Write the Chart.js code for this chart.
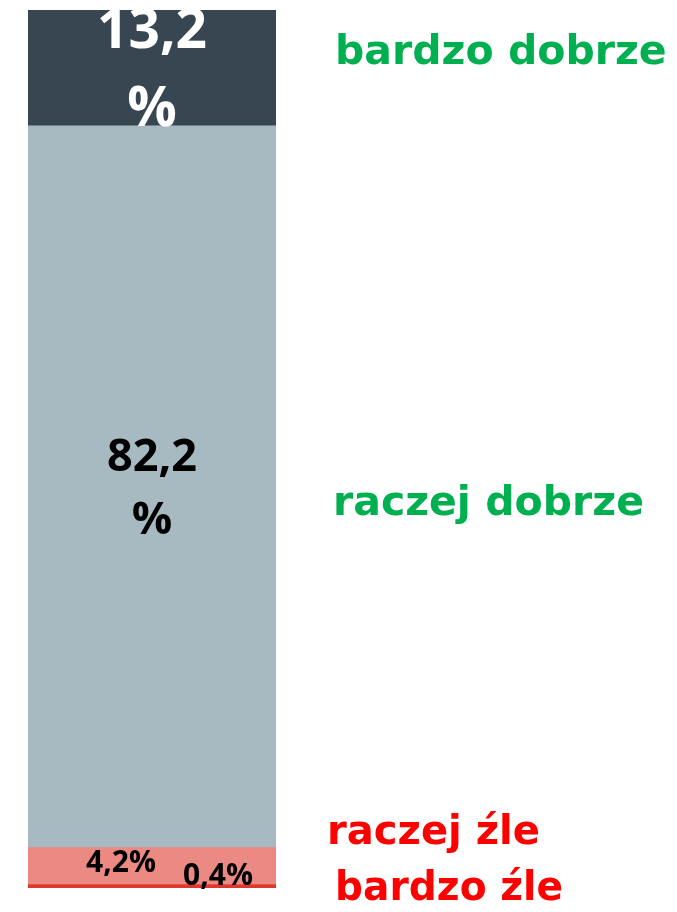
<!DOCTYPE html>
<html>
<head>
<meta charset="utf-8">
<style>
  html, body { margin: 0; padding: 0; background: #fff; }
  #wrap { width: 677px; height: 912px; position: relative; }
</style>
<script src="https://cdn.jsdelivr.net/npm/chart.js@4/dist/chart.umd.min.js"></script>
</head>
<body>
<div id="wrap"><canvas id="chart" width="677" height="912"></canvas></div>
<script>
  // ---- data ----
  const categories = ['ocena'];
  const seriesNames = ['bardzo źle', 'raczej źle', 'raczej dobrze', 'bardzo dobrze'];
  const seriesValues = [0.4, 4.2, 82.2, 13.2];
  const seriesColors = ['#E0382E', '#EB8A82', '#A8BAC1', '#384651'];
  const labelColors = ['#FF0000', '#FF0000', '#00B050', '#00B050'];

  const FONT = "'Open Sans','Noto Sans',sans-serif";
  const SIDE_FONT = "'DejaVu Sans',sans-serif";

  const fmt = (v) => v.toFixed(1).replace('.', ',');

  // value labels inside the bar + category names on the right
  const labelPlugin = {
    id: 'labels',
    afterDraw(chart) {
      const ctx = chart.ctx;
      const area = chart.chartArea;
      ctx.save();
      ctx.textAlign = 'center';
      ctx.textBaseline = 'middle';
      chart.data.datasets.forEach((ds, i) => {
        const bar = chart.getDatasetMeta(i).data[0];
        const cx = bar.x;
        const cy = (bar.y + bar.base) / 2;
        const txt = fmt(ds.data[0]);
        if (i === 3) {
          ctx.fillStyle = '#fff';
          ctx.font = 'bold 55px ' + FONT;
          ctx.fillText(txt, cx, cy - 36);
          ctx.fillText('%', cx, cy + 42);
        } else if (i === 2) {
          ctx.fillStyle = '#000';
          ctx.font = 'bold 45px ' + FONT;
          ctx.fillText(txt, cx, cy - 29);
          ctx.fillText('%', cx, cy + 34);
        } else if (i === 1) {
          ctx.fillStyle = '#000';
          ctx.font = 'bold 30px ' + FONT;
          ctx.fillText(txt + '%', cx - 31, cy - 3);
        } else {
          ctx.fillStyle = '#000';
          ctx.font = 'bold 30px ' + FONT;
          ctx.fillText(txt + '%', cx + 66, cy - 10);
        }
      });

      // category names to the right of the bar
      const sideX = area.right + 59;
      const sideY = [900, 844, 515, 64];
      const sideDx = [0, -8, -2, 0];
      const sideW = [228, 213, 312, 333];
      ctx.textAlign = 'left';
      ctx.textBaseline = 'alphabetic';
      ctx.font = 'bold 41px ' + SIDE_FONT;
      seriesNames.forEach((name, i) => {
        ctx.fillStyle = labelColors[i];
        ctx.fillText(name, sideX + sideDx[i], sideY[i], sideW[i]);
      });
      ctx.restore();
    }
  };

  function build() {
    new Chart(document.getElementById('chart'), {
      type: 'bar',
      data: {
        labels: categories,
        datasets: seriesNames.map((name, i) => ({
          label: name,
          data: [seriesValues[i]],
          backgroundColor: seriesColors[i],
          borderWidth: 0,
          barPercentage: 1,
          categoryPercentage: 1
        }))
      },
      options: {
        responsive: false,
        animation: false,
        layout: { padding: { left: 28, right: 401, top: 10, bottom: 24 } },
        plugins: { legend: { display: false }, tooltip: { enabled: false } },
        scales: {
          x: { stacked: true, display: false },
          y: { stacked: true, display: false, min: 0, max: 100 }
        }
      },
      plugins: [labelPlugin]
    });
  }

  // make sure the installed fonts are ready before the canvas draws text
  Promise.all([
    document.fonts.load("bold 55px 'Open Sans'"),
    document.fonts.load("bold 41px 'DejaVu Sans'")
  ]).then(build, build);
</script>
</body>
</html>
